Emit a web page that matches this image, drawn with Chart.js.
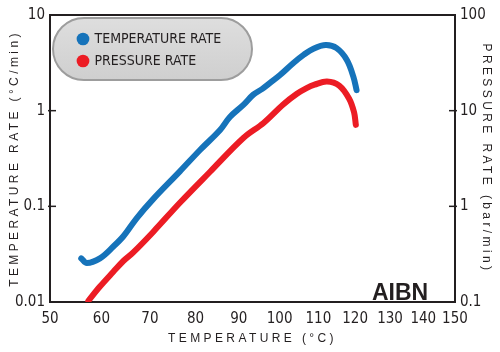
<!DOCTYPE html>
<html><head><meta charset="utf-8">
<script src="https://cdn.jsdelivr.net/npm/chart.js@4.4.1/dist/chart.umd.min.js"></script>
<style>html,body{margin:0;padding:0;background:#fff}</style>
</head><body>
<canvas id="c" width="500" height="352"></canvas>
<script>
// ---- data ----
const seriesNames = ['TEMPERATURE RATE', 'PRESSURE RATE'];
const tempRateT = [56.0, 57.1, 59.7, 62.4, 64.5, 67.2, 70.7, 76.5, 81.0, 85.6, 87.9, 91.1, 93.5, 95.7, 97.6, 100.1, 103.5, 106.2, 108.7, 112.0, 114.9, 117.7, 119.5, 120.4];
const tempRate  = [0.0286, 0.0256, 0.0286, 0.038, 0.049, 0.075, 0.119, 0.232, 0.388, 0.628, 0.86, 1.15, 1.47, 1.69, 1.95, 2.36, 3.15, 3.85, 4.45, 4.85, 4.5, 3.39, 2.27, 1.64];
const pressRateT = [57.4, 59.7, 62.4, 64.5, 66.5, 70.7, 76.5, 83.3, 91.1, 96.0, 100.9, 104.4, 106.9, 109.0, 112.3, 115.6, 118.3, 119.7, 120.2];
const pressRate  = [0.103, 0.145, 0.207, 0.27, 0.33, 0.54, 1.09, 2.30, 5.18, 7.43, 11.6, 15.0, 17.2, 18.7, 20.2, 18.3, 13.4, 9.6, 7.1];
const xTicks = [50, 60, 70, 80, 90, 100, 110, 120, 130, 140, 150];
const leftTicks = [0.01, 0.1, 1, 10];
const rightTicks = [0.1, 1, 10, 100];
const xTitle = 'TEMPERATURE (°C)';
const leftTitle = 'TEMPERATURE RATE (°C/min)';
const rightTitle = 'PRESSURE RATE (bar/min)';
const tagText = 'AIBN';

const INK = '#231f20';
const BLUE = '#1673ba';
const RED = '#ec1c24';
const NARROW = '"Liberation Sans Narrow", "DejaVu Sans Condensed", sans-serif';
const SANS = '"Liberation Sans", Arial, sans-serif';

// ---- reciprocal-temperature (Arrhenius) x scale ----
const KELVIN = 273.15;
const inv = t => -1 / (t + KELVIN);
class ArrheniusScale extends Chart.Scale {
  determineDataLimits() { const mm = this.getMinMax(false); this.min = mm.min; this.max = mm.max; }
  buildTicks() { return xTicks.map(v => ({ value: v })); }
  getLabelForValue(v) { return String(v); }
  configure() { super.configure(); this._a = inv(this.min); this._b = inv(this.max) - this._a; }
  getPixelForValue(v) { return this.getPixelForDecimal((inv(v) - this._a) / this._b); }
  getValueForPixel(p) { const d = this.getDecimalForPixel(p); return -1 / (this._a + d * this._b) - KELVIN; }
}
ArrheniusScale.id = 'arrhenius';
ArrheniusScale.defaults = {};
Chart.register(ArrheniusScale);

const toXY = (xs, ys) => xs.map((x, i) => ({ x, y: ys[i] }));

const decor = {
  id: 'decor',
  afterLayout(chart) {
    const lg = chart.legend;
    if (lg) { lg.left = 70.5; lg.top = 24; lg.right = lg.left + 200; lg.bottom = lg.top + 200; }
    for (const s of Object.values(chart.scales)) {
      if (!s._spaced) {
        const orig = s.drawTitle.bind(s);
        s.drawTitle = function (...a) { const c = this.ctx; c.save(); c.letterSpacing = '3.4px'; orig(...a); c.restore(); };
        s._spaced = true;
      }
    }
  },
  beforeDraw(chart) {
    const c = chart.ctx;
    c.save();
    c.beginPath();
    c.roundRect(53, 18, 199, 62, 31);
    const g = c.createLinearGradient(0, 18, 0, 80);
    g.addColorStop(0, '#dedede'); g.addColorStop(1, '#cfcfcf');
    c.fillStyle = g; c.fill();
    c.lineWidth = 2; c.strokeStyle = '#9d9d9d'; c.stroke();
    c.restore();
  },
  beforeDatasetsDraw(chart) {
    const c = chart.ctx, a = chart.chartArea;
    c.save();
    c.strokeStyle = INK; c.lineWidth = 2;
    c.strokeRect(a.left, a.top, a.right - a.left, a.bottom - a.top);
    c.lineWidth = 1.5;
    const y = chart.scales.y, y2 = chart.scales.y2;
    y.ticks.forEach(t => { if (t.value > leftTicks[0] && t.value < leftTicks[leftTicks.length - 1]) { const p = y.getPixelForValue(t.value); c.beginPath(); c.moveTo(a.left - 2, p); c.lineTo(a.left + 6, p); c.stroke(); } });
    y2.ticks.forEach(t => { if (t.value > rightTicks[0] && t.value < rightTicks[rightTicks.length - 1]) { const p = y2.getPixelForValue(t.value); c.beginPath(); c.moveTo(a.right - 6, p); c.lineTo(a.right + 2, p); c.stroke(); } });
    c.fillStyle = INK;
    c.font = 'bold 23px ' + SANS;
    c.textBaseline = 'alphabetic';
    c.fillText(tagText, a.right - 83, a.bottom - 2);
    c.restore();
  }
};

const tickFont = { family: NARROW, size: 15 };
new Chart(document.getElementById('c'), {
  type: 'line',
  data: {
    datasets: [
      { label: seriesNames[0], data: toXY(tempRateT, tempRate), yAxisID: 'y', borderColor: BLUE, backgroundColor: BLUE },
      { label: seriesNames[1], data: toXY(pressRateT, pressRate), yAxisID: 'y2', borderColor: RED, backgroundColor: RED }
    ]
  },
  options: {
    responsive: false,
    animation: false,
    layout: { padding: { top: 15, left: 0, right: 0, bottom: 0 } },
    elements: {
      line: { borderWidth: 6, tension: 0.35, borderCapStyle: 'round', borderJoinStyle: 'round', fill: false },
      point: { radius: 0, hoverRadius: 0 }
    },
    scales: {
      x: {
        type: 'arrhenius', position: 'bottom', min: 50, max: 150,
        grid: { display: false, drawTicks: false, tickLength: 0 }, border: { display: false },
        ticks: { autoSkip: false, maxRotation: 0, padding: 8, color: INK, font: tickFont },
        title: { display: true, text: xTitle, color: INK, font: { family: SANS, size: 12 }, padding: { top: 0, bottom: 6 } },
        afterFit(s) { s.height = 50; }
      },
      y: {
        type: 'logarithmic', position: 'left', min: 0.01, max: 10,
        grid: { display: false, drawTicks: false, tickLength: 0 }, border: { display: false },
        afterBuildTicks(s) { s.ticks = leftTicks.map(v => ({ value: v })); },
        ticks: { autoSkip: false, padding: 5, color: INK, font: tickFont, callback: v => String(v) },
        title: { display: true, text: leftTitle, color: INK, font: { family: SANS, size: 12 }, padding: { top: 7, bottom: 0 } },
        afterFit(s) { s.width = 50; }
      },
      y2: {
        type: 'logarithmic', position: 'right', min: 0.1, max: 100,
        grid: { display: false, drawTicks: false, tickLength: 0 }, border: { display: false },
        afterBuildTicks(s) { s.ticks = rightTicks.map(v => ({ value: v })); },
        ticks: { autoSkip: false, padding: 5, color: INK, font: tickFont, callback: v => String(v) },
        title: { display: true, text: rightTitle, color: INK, font: { family: SANS, size: 12 }, padding: { top: 6, bottom: 0 } },
        afterFit(s) { s.width = 45; }
      }
    },
    plugins: {
      tooltip: { enabled: false },
      legend: {
        position: 'chartArea', align: 'start',
        labels: {
          usePointStyle: true, pointStyle: 'circle', boxWidth: 9, boxHeight: 9, padding: 8,
          color: INK, font: { family: NARROW, size: 14 },
          generateLabels(chart) {
            return Chart.defaults.plugins.legend.labels.generateLabels(chart).map(it => Object.assign(it, { lineWidth: 0, pointStyle: 'circle' }));
          }
        }
      }
    }
  },
  plugins: [decor]
});
</script>
</body></html>
